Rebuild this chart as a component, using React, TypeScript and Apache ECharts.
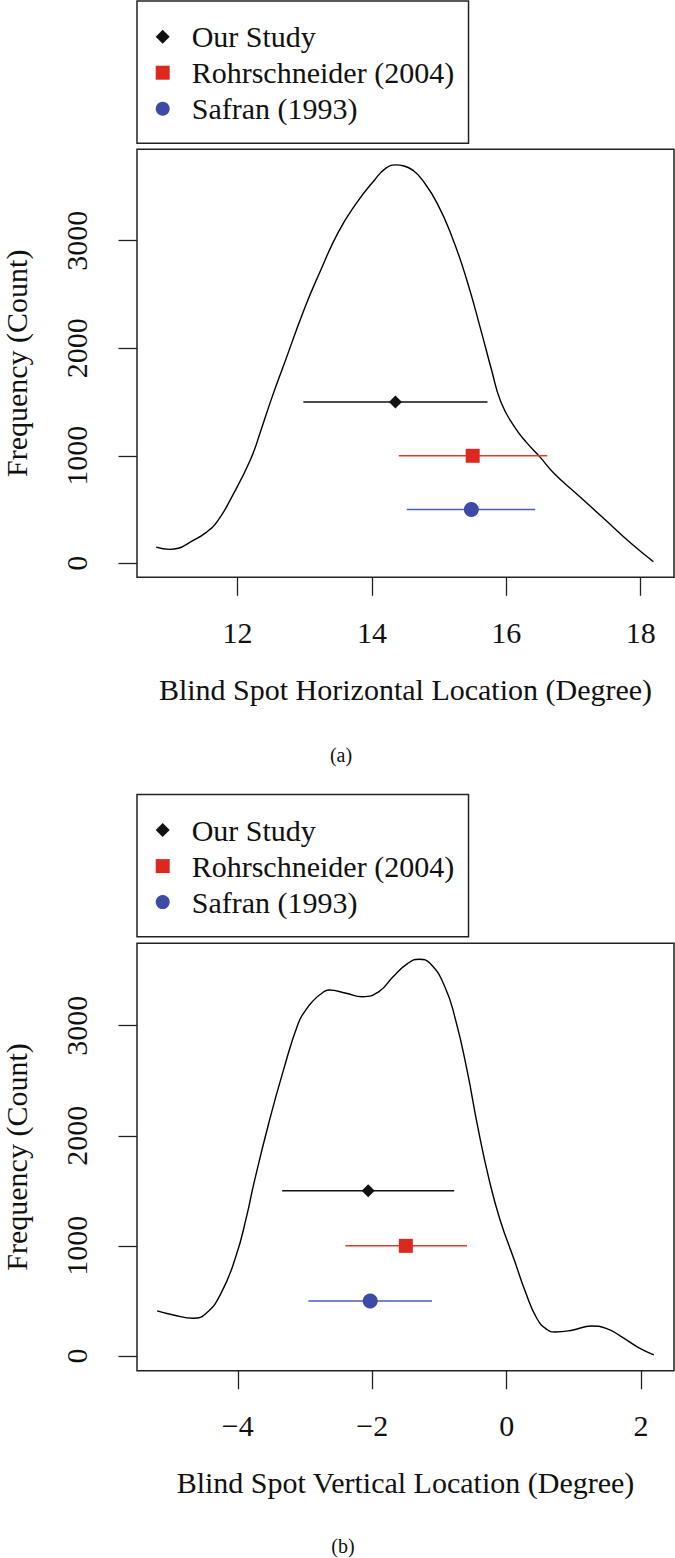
import React, { useEffect, useRef } from "react";
import * as echarts from "echarts";

// ---------- data ----------
const studies = ["Our Study", "Rohrschneider (2004)", "Safran (1993)"];
const studySymbols = ["diamond", "rect", "circle"];
const studySymbolSizes = [13, 14, 15];
const studyColors = ["#111111", "#dc281e", "#3e4aa8"];
const studyBarColors = ["#111111", "#e4382e", "#4f5bb5"];
const studyY = [1500, 1000, 500];

// (a) horizontal location
const horizMean = [14.35, 15.5, 15.48];
const horizLow = [12.98, 14.4, 14.52];
const horizHigh = [15.72, 16.61, 16.43];
const densityHX = [10.79, 10.99, 11.12, 11.29, 11.54, 11.71, 11.9, 12.19, 12.35, 12.5, 12.68, 13.01, 13.22, 13.5, 13.77, 14.04, 14.2, 14.35, 14.48, 14.62, 14.75, 14.97, 15.19, 15.41, 15.63, 15.78, 15.92, 16.12, 16.3, 16.5, 16.72, 17.04, 17.48, 17.86, 18.19];
const densityHY = [150, 130, 140, 195, 290, 400, 600, 960, 1240, 1520, 1830, 2390, 2700, 3080, 3350, 3565, 3670, 3705, 3695, 3650, 3565, 3350, 3040, 2640, 2150, 1800, 1500, 1270, 1125, 990, 830, 650, 400, 185, 15];

// (b) vertical location
const vertMean = [-2.06, -1.5, -2.03];
const vertLow = [-3.34, -2.4, -2.95];
const vertHigh = [-0.78, -0.59, -1.11];
const densityVX = [-5.2, -4.96, -4.66, -4.47, -4.25, -4.03, -3.87, -3.76, -3.54, -3.32, -3.1, -2.98, -2.88, -2.76, -2.64, -2.39, -2.15, -1.9, -1.69, -1.47, -1.3, -1.14, -0.92, -0.76, -0.59, -0.43, -0.26, -0.1, 0.12, 0.28, 0.45, 0.6, 0.72, 0.99, 1.26, 1.48, 1.7, 1.97, 2.19];
const densityVY = [409, 372, 342, 388, 569, 902, 1265, 1569, 2114, 2598, 3022, 3150, 3225, 3290, 3324, 3294, 3263, 3309, 3445, 3566, 3603, 3566, 3354, 3052, 2598, 2080, 1600, 1240, 860, 580, 340, 240, 218, 236, 272, 251, 178, 73, 9];

const xTicksA = [12, 14, 16, 18];
const xTicksB = [-4, -2, 0, 2];
const yTicks = [0, 1000, 2000, 3000];
const xRangeA = [10.504, 18.496];
const xRangeB = [-5.5, 2.49];
const yRangeA = [-130, 3850];
const yRangeB = [-134, 3748];
const xTitles = ["Blind Spot Horizontal Location (Degree)", "Blind Spot Vertical Location (Degree)"];
const yTitle = "Frequency (Count)";
const captions = ["(a)", "(b)"];

// ---------- style ----------
const FONT = '"Liberation Serif", "Times New Roman", serif';
const INK = "#111111";
const AXIS = "#222222";

const fmt = (v: number) => (v < 0 ? "\u2212" + Math.abs(v) : String(v));

function buildOption() {
  const grids = [
    { left: 137, top: 149.3, width: 537, height: 428 },
    { left: 137, top: 943.3, width: 537, height: 427.4 },
  ].map((g) => ({
    ...g,
    show: true,
    borderColor: AXIS,
    borderWidth: 1.5,
    backgroundColor: "transparent",
    containLabel: false,
    outerBoundsMode: "none",
  }));

  const xTickSets = [xTicksA, xTicksB];
  const xRanges = [xRangeA, xRangeB];
  const yRanges = [yRangeA, yRangeB];

  const xAxis = [0, 1].map((i) => ({
    type: "value",
    gridIndex: i,
    position: "bottom",
    min: xRanges[i][0],
    max: xRanges[i][1],
    axisLine: { show: false, onZero: false },
    splitLine: { show: false },
    axisTick: {
      show: true,
      customValues: xTickSets[i],
      length: 18.5,
      lineStyle: { color: AXIS, width: 1.3 },
    },
    axisLabel: {
      customValues: xTickSets[i],
      formatter: fmt,
      fontSize: 30,
      fontFamily: FONT,
      color: INK,
      margin: 40,
    },
    name: xTitles[i],
    nameLocation: "middle",
    nameGap: 97,
    nameTextStyle: { fontSize: 30, fontFamily: FONT, color: INK },
  }));

  const yAxis = [0, 1].map((i) => ({
    type: "value",
    gridIndex: i,
    position: "left",
    min: yRanges[i][0],
    max: yRanges[i][1],
    axisLine: { show: false, onZero: false },
    splitLine: { show: false },
    axisTick: {
      show: true,
      customValues: yTicks,
      length: 18.5,
      lineStyle: { color: AXIS, width: 1.3 },
    },
    axisLabel: {
      customValues: yTicks,
      formatter: fmt,
      rotate: 90,
      fontSize: 30,
      fontFamily: FONT,
      color: INK,
      margin: 46,
    },
    name: yTitle,
    nameLocation: "middle",
    nameGap: 106,
    nameTextStyle: { fontSize: 30, fontFamily: FONT, color: INK },
  }));

  const series: any[] = [];
  const densX = [densityHX, densityVX];
  const densY = [densityHY, densityVY];
  const means = [horizMean, vertMean];
  const lows = [horizLow, vertLow];
  const highs = [horizHigh, vertHigh];

  for (let p = 0; p < 2; p++) {
    series.push({
      type: "line",
      name: "Density " + captions[p],
      xAxisIndex: p,
      yAxisIndex: p,
      data: densX[p].map((x, k) => [x, densY[p][k]]),
      smooth: 0.5,
      showSymbol: false,
      symbol: "none",
      lineStyle: { color: "#000000", width: 1.4 },
      z: 2,
      silent: true,
    });
    for (let s = 0; s < studies.length; s++) {
      series.push({
        type: "line",
        name: studies[s] + " range " + captions[p],
        xAxisIndex: p,
        yAxisIndex: p,
        data: [
          [lows[p][s], studyY[s]],
          [highs[p][s], studyY[s]],
        ],
        showSymbol: false,
        symbol: "none",
        lineStyle: { color: studyBarColors[s], width: 1.5 },
        z: 3,
        silent: true,
      });
      series.push({
        type: "scatter",
        name: studies[s],
        xAxisIndex: p,
        yAxisIndex: p,
        data: [[means[p][s], studyY[s]]],
        symbol: studySymbols[s],
        symbolSize: studySymbolSizes[s],
        itemStyle: { color: studyColors[s], opacity: 1 },
        z: 4,
        silent: true,
      });
    }
  }

  const legendTops = [1, 794.4];
  const legend = legendTops.map((top) => ({
    orient: "vertical",
    left: 137,
    top,
    selectedMode: false,
    data: studies.map((name, s) => ({ name, icon: studySymbols[s] })),
    itemWidth: 14,
    itemHeight: 14,
    itemGap: 0,
    padding: [17.7, 14.4, 16.6, 18.7],
    borderColor: AXIS,
    borderWidth: 1.5,
    borderRadius: 0,
    backgroundColor: "#ffffff",
    textStyle: {
      fontSize: 30,
      fontFamily: FONT,
      color: INK,
      lineHeight: 36,
      padding: [0, 0, 0, 17],
    },
  }));

  const captionPos = [
    [341, 755],
    [343, 1546],
  ];
  const graphic = captions.map((t, i) => ({
    type: "text",
    x: captionPos[i][0],
    y: captionPos[i][1],
    style: {
      text: t,
      fontSize: 20,
      fontFamily: FONT,
      fill: INK,
      align: "center",
      verticalAlign: "middle",
    },
  }));

  return {
    animation: false,
    backgroundColor: "#ffffff",
    grid: grids,
    xAxis,
    yAxis,
    legend,
    series,
    graphic,
  };
}

export default function App() {
  const ref = useRef<HTMLDivElement>(null);
  useEffect(() => {
    if (!ref.current) return;
    const chart = echarts.init(ref.current, undefined, { renderer: "svg" });
    chart.setOption(buildOption() as any);
    return () => chart.dispose();
  }, []);
  return (
    <div
      ref={ref}
      style={{ position: "absolute", left: 0, top: 0, width: 675, height: 1558, background: "#fff" }}
    />
  );
}
